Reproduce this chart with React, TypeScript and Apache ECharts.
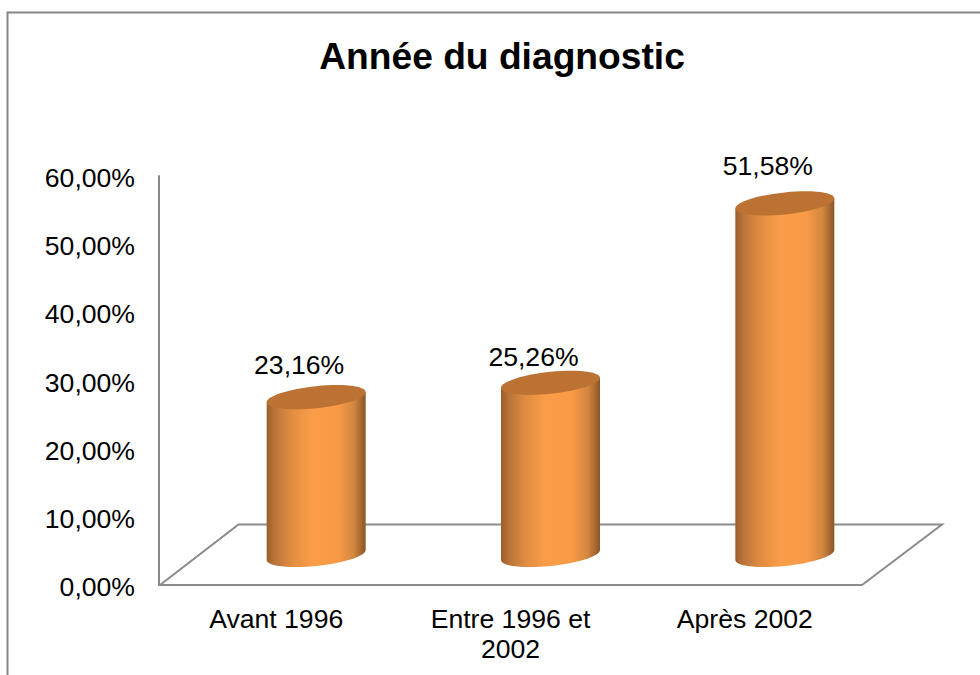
import React, { useEffect, useRef } from "react";
import * as echarts from "echarts";

const titleText = "Année du diagnostic";
const categories = ["Avant 1996", "Entre 1996 et\n2002", "Après 2002"];
const values = [23.16, 25.26, 51.58];
const yTicks = [0, 10, 20, 30, 40, 50, 60];

const FONT = '"Liberation Sans", Arial, sans-serif';
const GRAY = "#8b8b8b";
const DEPTH_X = 40;
const DEPTH_Y = 30;
const HALF_W = 49.5;
const TILT = 5;
const SEMI_V = 11;
const K = 0.5523;
const LABEL_SHIFT = [
  { dx: -17, dy: -32 },
  { dx: -17, dy: -26 },
  { dx: -17, dy: -37 },
];

const fmt = (v: number) => v.toFixed(2).replace(".", ",") + "%";

const bodyFill = {
  type: "linear",
  x: 0,
  y: 0,
  x2: 1,
  y2: 0,
  colorStops: [
    { offset: 0, color: "#9a5d2a" },
    { offset: 0.08, color: "#b9743a" },
    { offset: 0.25, color: "#e08d41" },
    { offset: 0.45, color: "#fb9c48" },
    { offset: 0.72, color: "#f99a47" },
    { offset: 0.88, color: "#d2863f" },
    { offset: 1, color: "#8b5526" },
  ],
};

// Half of a tilted ellipse, from the tangent point on side `from` (-1 left, 1 right)
// to the opposite one, passing below (side = 1) or above (side = -1) the centre.
function halfEllipse(cx: number, cy: number, from: number, side: number) {
  const ux = HALF_W * from;
  const uy = -TILT * from;
  const vy = SEMI_V * side;
  const p1 = [cx + ux, cy + uy + K * vy];
  const p2 = [cx + K * ux, cy + vy + K * uy];
  const p3 = [cx, cy + vy];
  const p4 = [cx - K * ux, cy + vy - K * uy];
  const p5 = [cx - ux, cy - uy + K * vy];
  const p6 = [cx - ux, cy - uy];
  return (
    `C${p1[0]} ${p1[1]} ${p2[0]} ${p2[1]} ${p3[0]} ${p3[1]}` +
    `C${p4[0]} ${p4[1]} ${p5[0]} ${p5[1]} ${p6[0]} ${p6[1]}`
  );
}

function renderCylinder(params: any, api: any) {
  const i = api.value(0);
  const v = api.value(1);
  const top = api.coord([i, v]);
  const base = api.coord([i, 0]);
  const cx = top[0] + DEPTH_X;
  const ty = top[1] - DEPTH_Y;
  const by = base[1] - DEPTH_Y;
  const l = cx - HALF_W;
  const r = cx + HALF_W;
  const body =
    `M${l} ${ty + TILT}L${l} ${by + TILT}` +
    halfEllipse(cx, by, -1, 1) +
    `L${r} ${ty - TILT}Z`;
  const cap =
    `M${l} ${ty + TILT}` + halfEllipse(cx, ty, -1, 1) + halfEllipse(cx, ty, 1, -1) + "Z";
  const shift = LABEL_SHIFT[i];
  return {
    type: "group",
    children: [
      { type: "path", shape: { pathData: body }, style: { fill: bodyFill } },
      { type: "path", shape: { pathData: cap }, style: { fill: "#bc7233" } },
      {
        type: "text",
        style: {
          text: fmt(v),
          x: cx + shift.dx,
          y: ty + shift.dy,
          fill: "#000000",
          font: `26.6px ${FONT}`,
          align: "center",
          verticalAlign: "middle",
        },
      },
    ],
  };
}

export default function App() {
  const ref = useRef<HTMLDivElement>(null);
  useEffect(() => {
    const chart = echarts.init(ref.current!, null, { renderer: "svg" });
    chart.setOption({
      animation: false,
      backgroundColor: "#ffffff",
      title: {
        text: titleText,
        left: 497,
        top: 51,
        textAlign: "center",
        textVerticalAlign: "middle",
        textStyle: { fontFamily: FONT, fontSize: 37.2, fontWeight: "bold", color: "#000000" },
      },
      grid: { left: 159, right: 118, top: 176, bottom: 90 },
      xAxis: {
        type: "category",
        data: categories,
        axisTick: { show: false },
        axisLine: { lineStyle: { color: GRAY, width: 2 } },
        axisLabel: {
          interval: 0,
          margin: 18.5,
          fontFamily: FONT,
          fontSize: 26.6,
          lineHeight: 30,
          color: "#000000",
        },
      },
      yAxis: {
        type: "value",
        min: yTicks[0],
        max: yTicks[yTicks.length - 1],
        interval: 10,
        splitLine: { show: false },
        axisTick: { show: false },
        axisLine: { show: true, lineStyle: { color: GRAY, width: 2 } },
        axisLabel: {
          margin: 24,
          fontFamily: FONT,
          fontSize: 26.6,
          color: "#000000",
          verticalAlign: "top",
          lineHeight: 4,
          formatter: (v: number) => fmt(v),
        },
      },
      graphic: [
        {
          type: "polyline",
          z: 0,
          shape: { points: [[7.5, 675], [7.5, 12.5], [980, 12.5]] },
          style: { stroke: "#868686", lineWidth: 2, fill: "none" },
        },
        {
          type: "polyline",
          z: 0,
          shape: { points: [[160, 585], [238.5, 524.5], [942, 524.5], [862, 585]] },
          style: { stroke: GRAY, lineWidth: 2, fill: "none" },
        },
      ],
      series: [
        {
          type: "custom",
          renderItem: renderCylinder,
          clip: false,
          data: values.map((v, i) => [i, v]),
          encode: { x: 0, y: 1 },
        },
      ],
    });
    return () => chart.dispose();
  }, []);
  return (
    <div
      ref={ref}
      style={{ position: "absolute", left: 0, top: 0, width: 980, height: 675 }}
    />
  );
}
